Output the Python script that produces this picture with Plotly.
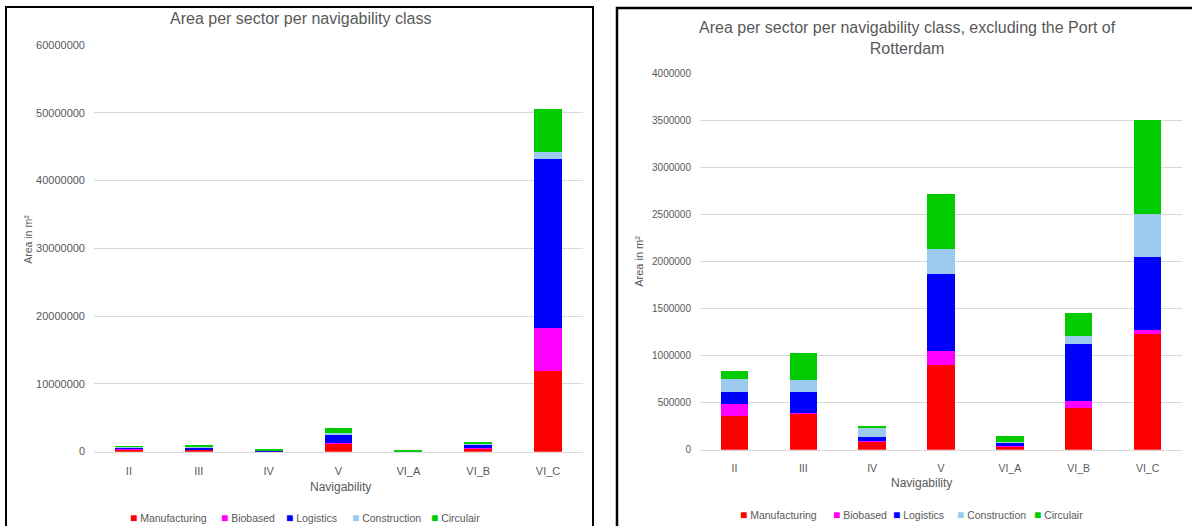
import plotly.graph_objects as go

categories = ["II", "III", "IV", "V", "VI_A", "VI_B", "VI_C"]
sectors = ["Manufacturing", "Biobased", "Logistics", "Construction", "Circulair"]
colors = ["#FF0000", "#FF00FF", "#0000FF", "#9DCBF0", "#00CC00"]

# Left chart: all areas
all_manufacturing = [360000, 384000, 89000, 1150000, 32000, 440000, 11900000]
all_biobased = [130000, 5000, 3000, 100000, 3000, 79000, 6400000]
all_logistics = [121000, 227000, 42000, 1350000, 43000, 608000, 24900000]
all_construction = [139000, 125000, 93000, 200000, 5000, 82000, 1000000]
all_circulair = [85000, 284000, 29000, 700000, 60000, 249000, 6300000]

# Right chart: excluding the Port of Rotterdam
ex_manufacturing = [360000, 384000, 89000, 903000, 32000, 440000, 1234000]
ex_biobased = [130000, 5000, 3000, 142000, 3000, 79000, 36000]
ex_logistics = [121000, 227000, 42000, 825000, 43000, 608000, 778000]
ex_construction = [139000, 125000, 93000, 267000, 5000, 82000, 459000]
ex_circulair = [85000, 284000, 29000, 583000, 60000, 249000, 1000000]

left_series = [all_manufacturing, all_biobased, all_logistics, all_construction, all_circulair]
right_series = [ex_manufacturing, ex_biobased, ex_logistics, ex_construction, ex_circulair]

W, H = 1192, 526
FONT = "Liberation Sans"
GREY = "#595959"
GRID = "#D9D9D9"


def px(x):
    return x / W


def py(y):
    # vertical pixel position (from top) -> paper fraction, with a small
    # correction for the vertical scaling seen in the rendered screenshot
    yc = (y - 6) / 0.978
    return 1 - yc / H


fig = go.Figure()
for name, col, vals in zip(sectors, colors, left_series):
    fig.add_trace(go.Bar(x=categories, y=vals, name=name, marker=dict(color=col, line=dict(width=0)),
                         xaxis="x", yaxis="y", showlegend=False))
for name, col, vals in zip(sectors, colors, right_series):
    fig.add_trace(go.Bar(x=categories, y=vals, name=name, marker=dict(color=col, line=dict(width=0)),
                         xaxis="x2", yaxis="y2", showlegend=False))


def xaxis_style(size):
    return dict(showgrid=False, tickfont=dict(family=FONT, size=size, color=GREY), ticks="",
                showline=True, linecolor=GRID, linewidth=1, fixedrange=True, ticklabelstandoff=9)


def yaxis_style(size):
    return dict(showgrid=True, gridcolor=GRID, gridwidth=1, zeroline=False, showline=False,
                tickformat="d", tickfont=dict(family=FONT, size=size, color=GREY), ticks="",
                fixedrange=True, ticklabelstandoff=8)


fig.update_layout(
    width=W, height=H, autosize=False,
    margin=dict(l=0, r=0, t=0, b=0),
    paper_bgcolor="white", plot_bgcolor="white",
    barmode="stack", bargap=0.6,
    font=dict(family=FONT, color=GREY),
    xaxis=dict(domain=[px(94), px(583)], anchor="y", **xaxis_style(11)),
    yaxis=dict(domain=[py(452), py(45)], anchor="x", range=[0, 60000000], dtick=10000000, **yaxis_style(11)),
    xaxis2=dict(domain=[px(700), px(1182)], anchor="y2", **xaxis_style(10.5)),
    yaxis2=dict(domain=[py(450), py(74)], anchor="x2", range=[0, 4000000], dtick=500000, **yaxis_style(10)),
    showlegend=False,
)

annotations = [
    dict(text="Area per sector per navigability class", x=px(300), y=py(19), font=dict(size=16)),
    dict(text="Area per sector per navigability class, excluding the Port of<br>Rotterdam",
         x=px(907), y=py(38), font=dict(size=16)),
    dict(text="Area in m²", x=px(28), y=py(240), textangle=-90, font=dict(size=10.5)),
    dict(text="Area in m²", x=px(639), y=py(262), textangle=-90, font=dict(size=11)),
    dict(text="Navigability", x=px(340), y=py(487), font=dict(size=12)),
    dict(text="Navigability", x=px(921), y=py(483), font=dict(size=12)),
]
for a in annotations:
    a.update(xanchor="center")

# legend entries (square + label), one row per chart
legend_left_x = [128, 219, 284, 350, 429]
legend_right_x = [738, 831, 891, 955, 1032]
for xs, yy in ((legend_left_x, 518), (legend_right_x, 515)):
    for name, col, x0 in zip(sectors, colors, xs):
        annotations.append(dict(
            text=f"<span style='color:{col};font-size:12px'>■</span> {name}",
            x=px(x0), y=py(yy), xanchor="left", font=dict(size=10.5)))

for a in annotations:
    a.update(xref="paper", yref="paper", showarrow=False, yanchor="middle")
    a.setdefault("xanchor", "center")
    a["font"].update(family=FONT, color=GREY)
fig.update_layout(annotations=annotations)

shapes = [
    dict(type="rect", x0=px(6), x1=px(593), y0=py(580), y1=py(7), line=dict(color="black", width=2)),
    dict(type="rect", x0=px(617), x1=px(1220), y0=py(580), y1=py(8), line=dict(color="black", width=2.5)),
]
for s in shapes:
    s.update(xref="paper", yref="paper", fillcolor="rgba(0,0,0,0)")
fig.update_layout(shapes=shapes)

post = (
    "document.body.style.margin='0';"
    "document.body.style.overflow='hidden';"
    "document.documentElement.style.overflow='hidden';"
)
fig.write_html("out.html", config={"displayModeBar": False}, post_script=post)
